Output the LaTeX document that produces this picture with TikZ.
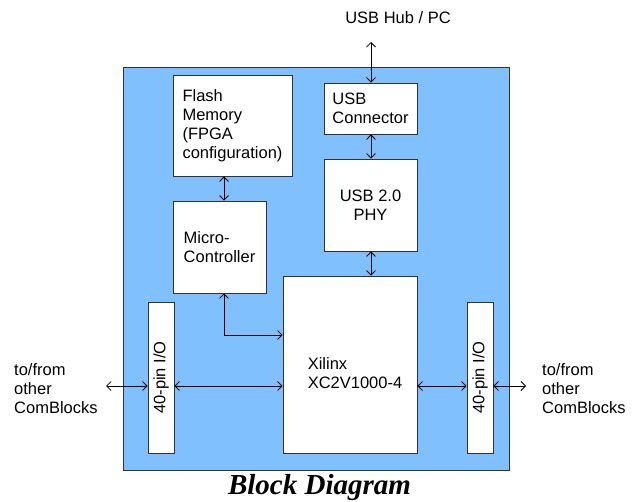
\documentclass[tikz,border=0pt]{standalone}
\usepackage{fontspec}
\setmainfont{Liberation Sans}
\newfontfamily\titlefont{Liberation Serif}
\usetikzlibrary{arrows.meta}
\definecolor{boardblue}{RGB}{128,192,255}
\definecolor{edgegray}{RGB}{50,50,50}
\begin{document}
\begin{tikzpicture}[x=1pt,y=-1pt,
    blk/.style={draw=edgegray,fill=white,line width=0.8pt,inner sep=0pt,
      align=left,font=\fontsize{16.5}{19}\selectfont},
    lbl/.style={align=left,inner sep=0pt,font=\fontsize{16.5}{19}\selectfont},
    link/.style={{Straight Barb[length=4.5pt,width=9pt]}-{Straight Barb[length=4.5pt,width=9pt]},
      line width=0.8pt,black}]
    \useasboundingbox (0,0) rectangle (639,502);
    % board
    \draw[edgegray,fill=boardblue,line width=0.8pt] (123,67) rectangle (509,470);
    % blocks
    \node[blk,minimum width=119pt,minimum height=101pt] (flash) at (232.5,125.5)
      {Flash\\Memory\\(FPGA\\configuration)};
    \node[blk,minimum width=93pt,minimum height=51pt] (conn) at (370.5,108.5)
      {USB\\Connector};
    \node[blk,minimum width=93pt,minimum height=92pt,align=center] (phy) at (370.5,205)
      {USB 2.0\\PHY};
    \node[blk,minimum width=93pt,minimum height=92pt] (mcu) at (219.5,247)
      {Micro-\\Controller};
    \node[blk,minimum width=134pt,minimum height=177pt] (fpga) at (350,364.5)
      {\\[10pt]\hspace*{10pt}Xilinx\\\hspace*{10pt}XC2V1000-4};
    \foreach \n/\cx in {ioL/161,ioR/480}
      \node[blk,minimum width=26pt,minimum height=151pt] (\n) at (\cx,377.5)
        {\rotatebox{90}{40-pin I/O}};
    % outside labels
    \node[lbl] (hub) at (398,18) {USB Hub / PC};
    \node[lbl,anchor=west] (extLtxt) at (14,389) {to/from\\other\\ComBlocks};
    \node[lbl,anchor=west] (extRtxt) at (542,389) {to/from\\other\\ComBlocks};
    \node[font=\titlefont\bfseries\itshape\fontsize{29}{32}\selectfont,inner sep=0pt]
      (title) at (319.5,488) {Block Diagram};
    % free ends
    \coordinate (hubend) at (371,42);
    \coordinate (busx) at (224,0);
    \coordinate (extL) at (106,386);
    \coordinate (extR) at (526,386);
    \coordinate (ctl) at (0,335);
    % links
    \draw[link] (hubend) -- (conn.north -| hubend);
    \draw[link] (conn.south -| hubend) -- (phy.north -| hubend);
    \draw[link] (phy.south -| hubend) -- (fpga.north -| hubend);
    \draw[link] (flash.south -| busx) -- (mcu.north -| busx);
    \draw[link] (mcu.south -| busx) |- (fpga.west |- ctl);
    \draw[link] (extL) -- (ioL.west |- extL);
    \draw[link] (ioL.east |- extL) -- (fpga.west |- extL);
    \draw[link] (fpga.east |- extR) -- (ioR.west |- extR);
    \draw[link] (ioR.east |- extR) -- (extR);
\end{tikzpicture}
\end{document}
